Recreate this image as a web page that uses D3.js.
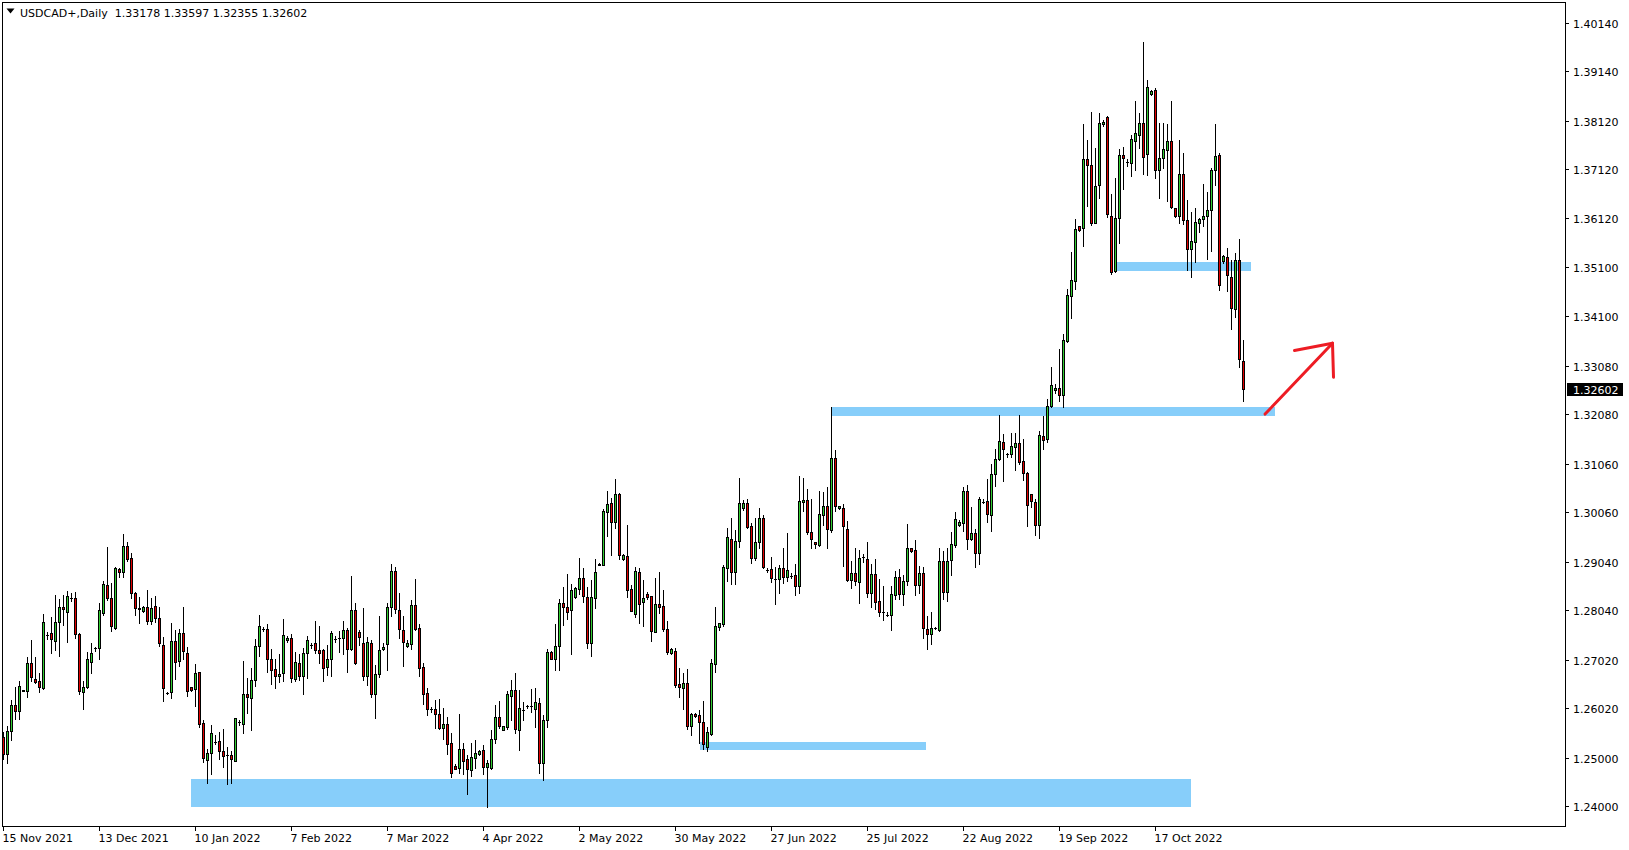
<!DOCTYPE html>
<html><head><meta charset="utf-8">
<script src="https://cdn.jsdelivr.net/npm/d3@7"></script>
<style>
body{margin:0;background:#fff;overflow:hidden}
svg{display:block}
text{font-family:"DejaVu Sans",Verdana,sans-serif;font-size:11px}
</style>
</head><body>
<svg id="chart" width="1629" height="850"></svg>
<script>
// ---------------- DATA ----------------
const symbolTitle = "USDCAD+,Daily";
const lastOHLC = [1.33178, 1.33597, 1.32355, 1.32602];

// daily bars (incl. short Sunday bars), bar 0 = 15 Nov 2021
const open = [
1.2542,1.2507,1.2554,1.2608,1.2597,1.2638,1.2638,1.2696,1.2663,1.2657,1.2644,1.2753,1.2756,1.2741,1.2780,1.2811,1.2801,1.2828,1.2828,1.2754,
1.2636,1.2645,1.2698,1.2727,1.2727,1.2799,1.2855,1.2830,1.2768,1.2888,1.2883,1.2936,1.2911,1.2839,1.2808,1.2802,1.2810,1.2782,1.2812,1.2787,
1.2733,1.2634,1.2635,1.2740,1.2700,1.2756,1.2715,1.2645,1.2641,1.2676,1.2571,1.2496,1.2509,1.2532,1.2534,1.2513,1.2506,1.2505,1.2494,1.2574,
1.2570,1.2631,1.2622,1.2661,1.2731,1.2765,1.2765,1.2703,1.2682,1.2668,1.2674,1.2742,1.2746,1.2663,1.2696,1.2668,1.2715,1.2732,1.2736,1.2721,
1.2721,1.2686,1.2703,1.2745,1.2746,1.2746,1.2763,1.2723,1.2804,1.2759,1.2736,1.2669,1.2736,1.2631,1.2672,1.2723,1.2734,1.2810,1.2885,1.2804,
1.2763,1.2731,1.2735,1.2814,1.2767,1.2686,1.2633,1.2601,1.2600,1.2589,1.2562,1.2569,1.2531,1.2483,1.2478,1.2517,1.2497,1.2474,1.2499,1.2508,
1.2515,1.2481,1.2478,1.2538,1.2583,1.2558,1.2563,1.2628,1.2639,1.2558,1.2599,1.2607,1.2607,1.2600,1.2612,1.2490,1.2577,1.2717,1.2704,1.2731,
1.2818,1.2810,1.2804,1.2831,1.2847,1.2870,1.2832,1.2736,1.2830,1.2900,1.2898,1.3007,1.3024,1.2985,1.3043,1.2909,1.2915,1.2847,1.2797,1.2882,
1.2820,1.2837,1.2833,1.2759,1.2816,1.2812,1.2766,1.2715,1.2719,1.2651,1.2644,1.2653,1.2566,1.2591,1.2587,1.2574,1.2523,1.2549,1.2694,1.2770,
1.2776,1.2890,1.2950,1.2882,1.2946,1.3015,1.3024,1.2977,1.2912,1.2944,1.2993,1.2887,1.2889,1.2869,1.2868,1.2890,1.2872,1.2875,1.2876,1.2853,
1.3026,1.3030,1.2964,1.2944,1.2939,1.3001,1.3019,1.2970,1.3117,1.3014,1.3014,1.2972,1.2866,1.2880,1.2861,1.2914,1.2909,1.2840,1.2878,1.2823,
1.2801,1.2795,1.2793,1.2836,1.2872,1.2837,1.2863,1.2931,1.2928,1.2856,1.2880,1.2765,1.2754,1.2767,1.2763,1.2905,1.2842,1.2908,1.2938,1.2979,
1.2984,1.3049,1.2951,1.2963,1.2922,1.3027,1.3029,1.2999,1.3084,1.3115,1.3150,1.3126,1.3125,1.3141,1.3148,1.3111,1.3087,1.3043,1.3027,1.2980,
1.3163,1.3156,1.3225,1.3257,1.3261,1.3247,1.3359,1.3452,1.3483,1.3595,1.3591,1.3734,1.3721,1.3602,1.3679,1.3805,1.3821,1.3617,1.3503,1.3611,
1.3742,1.3727,1.3726,1.3771,1.3784,1.3807,1.3743,1.3868,1.3876,1.3710,1.3736,1.3753,1.3770,1.3633,1.3616,1.3702,1.3607,1.3549,1.3563,1.3601,
1.3609,1.3617,1.3628,1.3710,1.3741,1.3524,1.3531,1.3490,1.3424,1.3525,1.33178];
const high = [
1.2553,1.2565,1.2619,1.2645,1.2659,1.2640,1.2708,1.2742,1.2708,1.2674,1.2797,1.2758,1.2790,1.2835,1.2827,1.2835,1.2843,1.2840,1.2841,1.2756,
1.2657,1.2718,1.2736,1.2729,1.2818,1.2863,1.2935,1.2859,1.2893,1.2890,1.2961,1.2945,1.2921,1.2842,1.2832,1.2813,1.2845,1.2828,1.2833,1.2810,
1.2748,1.2636,1.2777,1.2763,1.2765,1.2810,1.2729,1.2646,1.2694,1.2677,1.2578,1.2517,1.2567,1.2547,1.2552,1.2560,1.2521,1.2514,1.2582,1.2577,
1.2699,1.2665,1.2684,1.2744,1.2794,1.2769,1.2775,1.2723,1.2703,1.2714,1.2786,1.2751,1.2755,1.2718,1.2714,1.2725,1.2751,1.2736,1.2782,1.2771,
1.2724,1.2732,1.2760,1.2751,1.2760,1.2782,1.2767,1.2874,1.2819,1.2763,1.2808,1.2749,1.2742,1.2691,1.2791,1.2736,1.2819,1.2899,1.2892,1.2840,
1.2792,1.2742,1.2824,1.2868,1.2775,1.2696,1.2643,1.2605,1.2619,1.2621,1.2603,1.2584,1.2551,1.2486,1.2590,1.2530,1.2505,1.2530,1.2536,1.2516,
1.2526,1.2495,1.2556,1.2609,1.2617,1.2565,1.2637,1.2660,1.2674,1.2639,1.2614,1.2608,1.2641,1.2643,1.2622,1.2588,1.2723,1.2719,1.2775,1.2826,
1.2852,1.2878,1.2858,1.2852,1.2911,1.2891,1.2852,1.2866,1.2909,1.2902,1.3012,1.3049,1.3036,1.3074,1.3046,1.2919,1.2979,1.2856,1.2892,1.2890,
1.2866,1.2841,1.2834,1.2870,1.2883,1.2845,1.2781,1.2727,1.2725,1.2685,1.2674,1.2682,1.2593,1.2593,1.2598,1.2617,1.2563,1.2703,1.2810,1.2778,
1.2897,1.2973,1.2993,1.2969,1.3076,1.3031,1.3033,1.2984,1.2993,1.3015,1.2999,1.2891,1.2913,1.2892,1.2896,1.2931,1.2963,1.2880,1.2900,1.3080,
1.3076,1.3054,1.3033,1.2945,1.3049,1.3048,1.3058,1.3223,1.3134,1.3019,1.3023,1.2988,1.2905,1.2933,1.2927,1.2919,1.2944,1.2899,1.2909,1.2868,
1.2854,1.2801,1.2854,1.2885,1.2889,1.2876,1.2982,1.2933,1.2949,1.2894,1.2893,1.2791,1.2800,1.2769,1.2931,1.2926,1.2933,1.2966,1.3007,1.2989,
1.3058,1.3062,1.3017,1.2972,1.3038,1.3033,1.3074,1.3106,1.3137,1.3206,1.3166,1.3127,1.3170,1.3168,1.3206,1.3157,1.3088,1.3043,1.3034,1.3173,
1.3204,1.3239,1.3305,1.3269,1.3342,1.3373,1.3465,1.3542,1.3610,1.3596,1.3805,1.3773,1.3830,1.3756,1.3828,1.3814,1.3822,1.3661,1.3695,1.3754,
1.3758,1.3734,1.3782,1.3853,1.3828,1.3975,1.3896,1.3876,1.3879,1.3808,1.3808,1.3806,1.3853,1.3633,1.3773,1.3746,1.3649,1.3625,1.3633,1.3613,
1.3683,1.3666,1.3716,1.3806,1.3745,1.3536,1.3550,1.3526,1.3539,1.3569,1.33597];
const low = [
1.2497,1.2490,1.2536,1.2580,1.2580,1.2637,1.2624,1.2657,1.2653,1.2636,1.2642,1.2744,1.2716,1.2722,1.2710,1.2773,1.2739,1.2822,1.2747,1.2632,
1.2601,1.2643,1.2675,1.2720,1.2703,1.2794,1.2825,1.2760,1.2766,1.2873,1.2873,1.2906,1.2830,1.2794,1.2778,1.2801,1.2775,1.2775,1.2780,1.2730,
1.2617,1.2632,1.2622,1.2663,1.2688,1.2704,1.2628,1.2638,1.2606,1.2564,1.2491,1.2448,1.2466,1.2528,1.2497,1.2481,1.2446,1.2448,1.2493,1.2568,
1.2551,1.2593,1.2556,1.2648,1.2710,1.2762,1.2677,1.2652,1.2644,1.2655,1.2659,1.2739,1.2655,1.2657,1.2660,1.2631,1.2665,1.2726,1.2716,1.2696,
1.2658,1.2671,1.2668,1.2738,1.2718,1.2714,1.2677,1.2722,1.2693,1.2732,1.2660,1.2650,1.2624,1.2582,1.2667,1.2722,1.2681,1.2792,1.2799,1.2747,
1.2689,1.2729,1.2724,1.2763,1.2668,1.2610,1.2587,1.2595,1.2562,1.2560,1.2538,1.2507,1.2461,1.2476,1.2468,1.2466,1.2426,1.2462,1.2478,1.2505,
1.2466,1.2399,1.2476,1.2531,1.2562,1.2557,1.2560,1.2578,1.2551,1.2516,1.2578,1.2603,1.2595,1.2564,1.2469,1.2455,1.2564,1.2703,1.2681,1.2681,
1.2773,1.2786,1.2714,1.2829,1.2837,1.2821,1.2727,1.2710,1.2809,1.2897,1.2897,1.2957,1.2918,1.2974,1.2909,1.2907,1.2832,1.2802,1.2789,1.2778,
1.2772,1.2826,1.2741,1.2758,1.2799,1.2762,1.2714,1.2714,1.2646,1.2626,1.2600,1.2560,1.2547,1.2583,1.2531,1.2518,1.2514,1.2547,1.2677,1.2763,
1.2772,1.2863,1.2858,1.2857,1.2935,1.3011,1.2974,1.2902,1.2908,1.2933,1.2890,1.2883,1.2861,1.2816,1.2840,1.2859,1.2863,1.2870,1.2835,1.2840,
1.3009,1.2960,1.2933,1.2933,1.2937,1.2979,1.2933,1.2966,1.3009,1.3012,1.2895,1.2864,1.2850,1.2856,1.2819,1.2904,1.2832,1.2811,1.2806,1.2791,
1.2784,1.2792,1.2763,1.2827,1.2827,1.2815,1.2856,1.2923,1.2835,1.2839,1.2747,1.2724,1.2734,1.2765,1.2761,1.2827,1.2823,1.2876,1.2935,1.2978,
1.2968,1.2930,1.2949,1.2892,1.2900,1.3024,1.2986,1.2968,1.3060,1.3114,1.3071,1.3120,1.3120,1.3093,1.3106,1.3072,1.2978,1.3017,1.2959,1.2952,
1.3135,1.3151,1.3223,1.3251,1.3234,1.3223,1.3357,1.3405,1.3465,1.3586,1.3555,1.3637,1.3598,1.3601,1.3654,1.3802,1.3615,1.3497,1.3500,1.3561,
1.3672,1.3720,1.3699,1.3711,1.3757,1.3703,1.3701,1.3865,1.3695,1.3654,1.3716,1.3647,1.3633,1.3615,1.3602,1.3599,1.3504,1.3491,1.3522,1.3584,
1.3596,1.3527,1.3545,1.3679,1.3464,1.3520,1.3462,1.3383,1.3407,1.3306,1.32355];
const close = [
1.2507,1.2554,1.2608,1.2597,1.2648,1.2639,1.2696,1.2667,1.2655,1.2645,1.2779,1.2753,1.2744,1.2780,1.2811,1.2806,1.2833,1.2828,1.2754,1.2638,
1.2645,1.2703,1.2716,1.2727,1.2804,1.2857,1.2830,1.2771,1.2891,1.2883,1.2936,1.2909,1.2839,1.2808,1.2807,1.2811,1.2782,1.2808,1.2788,1.2736,
1.2643,1.2634,1.2740,1.2698,1.2756,1.2720,1.2638,1.2639,1.2674,1.2570,1.2500,1.2509,1.2550,1.2532,1.2513,1.2504,1.2505,1.2497,1.2581,1.2574,
1.2631,1.2626,1.2661,1.2731,1.2771,1.2765,1.2703,1.2680,1.2668,1.2672,1.2752,1.2747,1.2665,1.2698,1.2668,1.2715,1.2742,1.2732,1.2721,1.2715,
1.2685,1.2703,1.2757,1.2745,1.2746,1.2764,1.2723,1.2804,1.2696,1.2749,1.2669,1.2738,1.2631,1.2672,1.2722,1.2729,1.2810,1.2885,1.2806,1.2766,
1.2739,1.2736,1.2814,1.2766,1.2685,1.2632,1.2600,1.2601,1.2589,1.2562,1.2569,1.2529,1.2469,1.2477,1.2517,1.2494,1.2476,1.2501,1.2509,1.2514,
1.2481,1.2488,1.2538,1.2583,1.2566,1.2565,1.2631,1.2639,1.2560,1.2602,1.2599,1.2607,1.2607,1.2614,1.2490,1.2577,1.2718,1.2704,1.2731,1.2818,
1.2810,1.2801,1.2845,1.2849,1.2870,1.2834,1.2737,1.2832,1.2882,1.2898,1.3008,1.3022,1.2986,1.3043,1.2918,1.2917,1.2846,1.2803,1.2884,1.2817,
1.2830,1.2832,1.2762,1.2816,1.2811,1.2766,1.2718,1.2724,1.2650,1.2645,1.2653,1.2566,1.2589,1.2586,1.2574,1.2528,1.2552,1.2696,1.2771,1.2777,
1.2892,1.2954,1.2882,1.2946,1.3024,1.3024,1.2975,1.2912,1.2944,1.2993,1.2892,1.2887,1.2870,1.2869,1.2890,1.2872,1.2886,1.2875,1.2853,1.3028,
1.3030,1.2966,1.2951,1.2940,1.3002,1.3019,1.2971,1.3117,1.3018,1.3018,1.2978,1.2866,1.2880,1.2863,1.2911,1.2914,1.2840,1.2878,1.2821,1.2801,
1.2801,1.2795,1.2837,1.2872,1.2837,1.2863,1.2931,1.2925,1.2856,1.2880,1.2768,1.2754,1.2767,1.2767,1.2905,1.2842,1.2905,1.2940,1.2992,1.2986,
1.3049,1.2951,1.2963,1.2922,1.3034,1.3027,1.3003,1.3084,1.3115,1.3152,1.3135,1.3126,1.3142,1.3148,1.3110,1.3086,1.3020,1.3028,1.2980,1.3164,
1.3155,1.3225,1.3268,1.3261,1.3247,1.3361,1.3453,1.3484,1.3589,1.3588,1.3734,1.3721,1.3602,1.3678,1.3807,1.3810,1.3620,1.3501,1.3611,1.3742,
1.3736,1.3727,1.3774,1.3787,1.3807,1.3738,1.3881,1.3874,1.3711,1.3736,1.3754,1.3770,1.3635,1.3617,1.3702,1.3607,1.3549,1.3564,1.3603,1.3609,
1.3617,1.3628,1.3711,1.3739,1.3473,1.3533,1.3494,1.3427,1.3525,1.3321,1.32602];

const dateLabels = ["15 Nov 2021","13 Dec 2021","10 Jan 2022","7 Feb 2022","7 Mar 2022","4 Apr 2022",
  "2 May 2022","30 May 2022","27 Jun 2022","25 Jul 2022","22 Aug 2022","19 Sep 2022","17 Oct 2022"];
const dateLabelBars = [0,24,48,72,96,120,144,168,192,216,240,264,288];

const priceTicks = [1.40140,1.39140,1.38120,1.37120,1.36120,1.35100,1.34100,1.33080,1.32080,
  1.31060,1.30060,1.29040,1.28040,1.27020,1.26020,1.25000,1.24000];

// support / resistance zones: [fromBar, toBar, lowPrice, highPrice]
const zoneFrom = [46.9, 174.0, 207.1, 277.7];
const zoneTo   = [296.9, 230.6, 317.85, 311.85];
const zoneLow  = [1.2399, 1.2516, 1.3205, 1.3503];
const zoneHigh = [1.2456, 1.2532, 1.3222, 1.3521];

// hand-drawn arrow, [bar, price]
const arrowShaft = [[315.4, 1.3208], [332.25, 1.3354]];
const arrowHead  = [[322.75, 1.3339], [332.25, 1.3354], [332.5, 1.3284]];

// ---------------- DRAW ----------------
const svg = d3.select("#chart");
const x = d3.scaleLinear().domain([0, 310]).range([3.5, 1243.5]);
const y = d3.scaleLinear().domain([1.24000, 1.40140]).range([806.2, 22.9]);

const bullColor = "#32cd32", bearColor = "#e00000", zoneColor = "#87cefa";

// zones (behind candles)
svg.append("g").selectAll("rect").data(zoneFrom.map((f, i) => i)).join("rect")
  .attr("x", i => Math.round(x(zoneFrom[i])))
  .attr("width", i => Math.round(x(zoneTo[i])) - Math.round(x(zoneFrom[i])))
  .attr("y", i => Math.round(y(zoneHigh[i])))
  .attr("height", i => Math.round(y(zoneLow[i])) - Math.round(y(zoneHigh[i])))
  .attr("fill", zoneColor);

// candles
const bars = d3.range(open.length);
const gC = svg.append("g");
gC.selectAll("line").data(bars).join("line")
  .attr("x1", i => x(i)).attr("x2", i => x(i))
  .attr("y1", i => Math.round(y(high[i])))
  .attr("y2", i => Math.round(y(low[i])) + 1)
  .attr("stroke", "#000").attr("stroke-width", 1);
gC.selectAll("rect").data(bars).join("rect")
  .attr("x", i => x(i) - 1)
  .attr("width", 2)
  .attr("y", i => Math.round(y(Math.max(open[i], close[i]))) + 0.5)
  .attr("height", i => Math.max(Math.round(y(Math.min(open[i], close[i]))) - Math.round(y(Math.max(open[i], close[i]))), 0.01))
  .attr("fill", i => close[i] >= open[i] ? bullColor : bearColor)
  .attr("stroke", "#000").attr("stroke-width", 1);

// arrow
const line = d3.line().x(d => x(d[0])).y(d => y(d[1]));
svg.append("path").attr("d", line(arrowShaft)).attr("fill", "none")
  .attr("stroke", "#ed1c24").attr("stroke-width", 3).attr("stroke-linecap", "round");
svg.append("path").attr("d", line(arrowHead)).attr("fill", "none")
  .attr("stroke", "#ed1c24").attr("stroke-width", 3).attr("stroke-linecap", "round").attr("stroke-linejoin", "round");

// frame
svg.append("rect").attr("x", 2.5).attr("y", 2.5).attr("width", 1563).attr("height", 824)
  .attr("fill", "none").attr("stroke", "#000").attr("stroke-width", 1);

// price axis
const gP = svg.append("g");
priceTicks.forEach(p => {
  const yy = Math.round(y(p)) + 0.5;
  gP.append("line").attr("x1", 1566).attr("x2", 1569).attr("y1", yy).attr("y2", yy).attr("stroke", "#000");
  gP.append("text").attr("x", 1573).attr("y", yy + 4).attr("fill", "#000").text(d3.format(".5f")(p));
});
// current price label
const cy = Math.round(y(lastOHLC[3]));
gP.append("rect").attr("x", 1567).attr("y", cy - 6).attr("width", 56).attr("height", 13).attr("fill", "#000");
gP.append("text").attr("x", 1573).attr("y", cy + 4.5).attr("fill", "#fff").text(d3.format(".5f")(lastOHLC[3]));

// date axis
const gD = svg.append("g");
dateLabelBars.forEach((b, i) => {
  const xx = x(b);
  gD.append("line").attr("x1", xx).attr("x2", xx).attr("y1", 827).attr("y2", 831).attr("stroke", "#000");
  gD.append("text").attr("x", xx - 1).attr("y", 841.5).attr("fill", "#000").text(dateLabels[i]);
});

// header
svg.append("path").attr("d", "M6.5,8.5 L14.5,8.5 L10.5,13.5 Z").attr("fill", "#000");
svg.append("text").attr("x", 20).attr("y", 17).attr("fill", "#000").attr("xml:space", "preserve")
  .text(symbolTitle + "  " + lastOHLC.map(d3.format(".5f")).join(" "));
</script>
</body></html>
